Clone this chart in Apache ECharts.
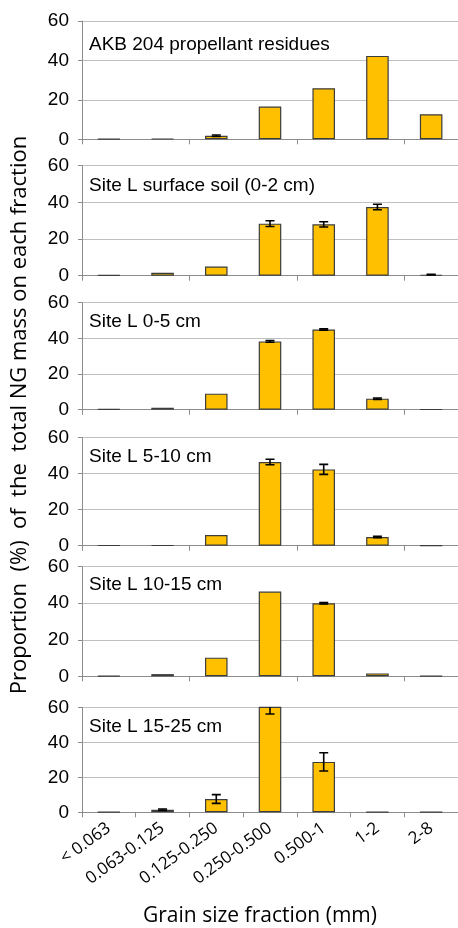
<!DOCTYPE html>
<html><head><meta charset="utf-8">
<script src="https://cdn.jsdelivr.net/npm/echarts@6/dist/echarts.min.js"></script>
<style>html,body{margin:0;padding:0;background:#fff}#c{width:458px;height:928px}</style>
</head><body><div id="c"></div>
<script>
// ---- data ----
const categories = ['< 0.063', '0.063-0.125', '0.125-0.250', '0.250-0.500', '0.500-1', '1-2', '2-8'];
const panelTitles = ['AKB 204 propellant residues', 'Site L surface soil (0-2 cm)', 'Site L 0-5 cm', 'Site L 5-10 cm', 'Site L 10-15 cm', 'Site L 15-25 cm'];
const yTicks = [0, 20, 40, 60];

const akbValues      = [0.2, 0.3, 1.8, 16.6, 25.9, 42.3, 12.7];
const akbErrors      = [0, 0, 0.4, 0, 0, 0, 0];
const surfaceValues  = [0.3, 1.6, 5.0, 28.4, 28.0, 37.5, 0.5];
const surfaceErrors  = [0, 0, 0, 1.6, 1.4, 1.5, 0.2];
const d0to5Values    = [0.3, 1.1, 9.0, 38.3, 45.0, 6.2, 0.2];
const d0to5Errors    = [0, 0, 0, 0.5, 0.4, 0.4, 0];
const d5to10Values   = [0.2, 0.2, 5.9, 46.5, 42.4, 4.8, 0.1];
const d5to10Errors   = [0, 0, 0, 1.5, 2.8, 0.4, 0];
const d10to15Values  = [0.3, 1.2, 10.2, 46.4, 40.0, 1.6, 0.2];
const d10to15Errors  = [0, 0, 0, 0, 0.4, 0, 0];
const d15to25Values  = [0.1, 1.5, 7.6, 62.0, 28.8, 0.1, 0.1];
const d15to25Errors  = [0, 0.4, 2.5, 5.8, 5.2, 0, 0];

const xAxisTitle = 'Grain size fraction (mm)';
const yAxisTitle = 'Proportion  (%)  of  the  total NG mass on each fraction';

const panels = [
  { title: panelTitles[0], values: akbValues, errors: akbErrors },
  { title: panelTitles[1], values: surfaceValues, errors: surfaceErrors },
  { title: panelTitles[2], values: d0to5Values, errors: d0to5Errors },
  { title: panelTitles[3], values: d5to10Values, errors: d5to10Errors },
  { title: panelTitles[4], values: d10to15Values, errors: d10to15Errors },
  { title: panelTitles[5], values: d15to25Values, errors: d15to25Errors }
];

// ---- layout ----
const gridLayout = [[21, 118.3], [165.7, 110], [302.7, 107], [437.7, 108], [566.7, 109.6], [707.3, 105]];
const titleOffset = [24, 20, 19, 19, 17.6, 19.4];
const axisColor = '#8c8c8c';
const gridColor = '#c0c0c0';

const grids = [], xAxes = [], yAxes = [], series = [], graphics = [];
panels.forEach((p, i) => {
  const [top, h] = gridLayout[i];
  grids.push({ left: 82, top: top, width: 378, height: h, containLabel: false });
  xAxes.push({
    type: 'category', gridIndex: i, data: categories,
    axisLine: { show: true, lineStyle: { color: axisColor, width: 1 } },
    axisTick: { show: true, length: 5, lineStyle: { color: axisColor } },
    axisLabel: i === panels.length - 1 ? {
      show: true, interval: 0, rotate: 36, margin: 14,
      fontFamily: 'Open Sans', fontSize: 17, color: '#000'
    } : { show: false },
    splitLine: { show: false }
  });
  yAxes.push({
    type: 'value', gridIndex: i, min: yTicks[0], max: yTicks[yTicks.length - 1], interval: 20,
    axisLine: { show: true, lineStyle: { color: axisColor, width: 1 } },
    axisTick: { show: true, length: 4, lineStyle: { color: axisColor } },
    axisLabel: { margin: 13, fontFamily: 'Liberation Sans', fontSize: 19, color: '#000' },
    splitLine: { show: true, lineStyle: { color: gridColor, width: 1 } }
  });
  series.push({
    type: 'bar', xAxisIndex: i, yAxisIndex: i, data: p.values,
    barWidth: '42%', clip: true, animation: false,
    itemStyle: { color: '#FFC000', borderColor: '#3c3c3c', borderWidth: 1.2 }
  });
  const errData = [];
  p.values.forEach((v, j) => { if (p.errors[j] > 0) errData.push([j, v - p.errors[j], v + p.errors[j]]); });
  series.push({
    type: 'custom', xAxisIndex: i, yAxisIndex: i, data: errData, clip: true, z: 5, animation: false,
    encode: { x: 0, y: [1, 2] },
    renderItem: function (params, api) {
      const x = api.value(0);
      const lo = api.coord([x, api.value(1)]);
      const hi = api.coord([x, api.value(2)]);
      const cw = 4.5;
      const st = { stroke: '#000', lineWidth: 1.6 };
      return {
        type: 'group', children: [
          { type: 'line', shape: { x1: lo[0], y1: lo[1], x2: hi[0], y2: hi[1] }, style: st },
          { type: 'line', shape: { x1: lo[0] - cw, y1: lo[1], x2: lo[0] + cw, y2: lo[1] }, style: st },
          { type: 'line', shape: { x1: hi[0] - cw, y1: hi[1], x2: hi[0] + cw, y2: hi[1] }, style: st }
        ]
      };
    }
  });
  graphics.push({
    type: 'text', x: 89, y: top + titleOffset[i],
    style: { text: p.title, font: '19px "Liberation Sans"', fill: '#000', textVerticalAlign: 'middle', textAlign: 'left' }
  });
});

graphics.push({
  type: 'text', x: 20, y: 415, rotation: Math.PI / 2,
  style: { text: yAxisTitle, font: '22px "Open Sans"', fill: '#000', textAlign: 'center', textVerticalAlign: 'middle' }
});
graphics.push({
  type: 'text', x: 260, y: 916,
  style: { text: xAxisTitle, font: '21px "Open Sans"', fill: '#000', textAlign: 'center', textVerticalAlign: 'middle' }
});

const chart = echarts.init(document.getElementById('c'), null, { renderer: 'canvas' });
chart.setOption({
  animation: false,
  backgroundColor: '#fff',
  grid: grids, xAxis: xAxes, yAxis: yAxes, series: series, graphic: graphics
});
</script></body></html>
